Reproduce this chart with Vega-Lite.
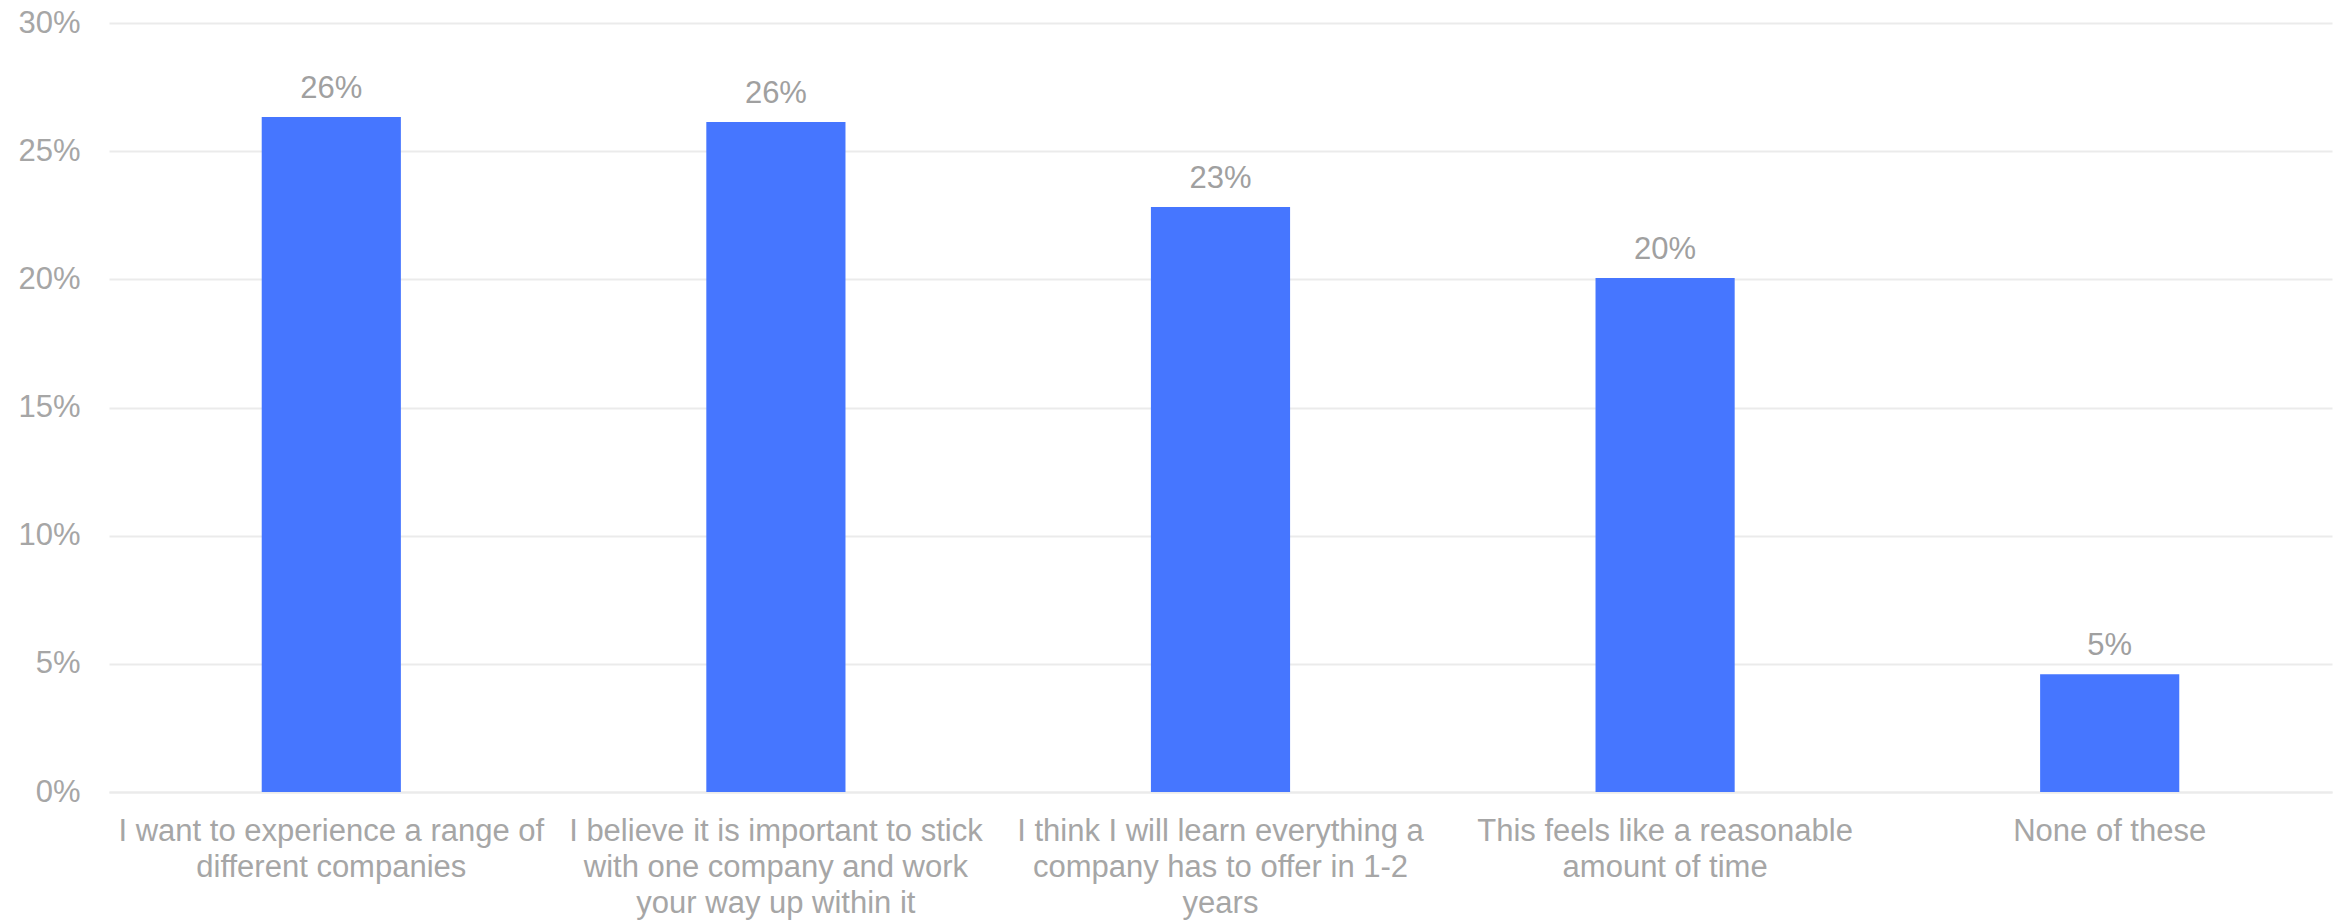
{
  "$schema": "https://vega.github.io/schema/vega-lite/v6.json",
  "width": 2223,
  "height": 769,
  "autosize": {"type": "none"},
  "padding": {"left": 109, "top": 23, "right": 9, "bottom": 128},
  "background": "white",
  "data": {
    "values": [
      {"reason": "I want to experience a range of|different companies", "share": 0.2633},
      {"reason": "I believe it is important to stick|with one company and work|your way up within it", "share": 0.2614},
      {"reason": "I think I will learn everything a|company has to offer in 1-2|years", "share": 0.2282},
      {"reason": "This feels like a reasonable|amount of time", "share": 0.2005},
      {"reason": "None of these", "share": 0.0459}
    ]
  },
  "config": {
    "font": "Liberation Sans",
    "view": {"stroke": null}
  },
  "encoding": {
    "x": {
      "field": "reason",
      "type": "nominal",
      "sort": null,
      "scale": {"paddingInner": 0.687, "paddingOuter": 0.3435},
      "axis": {
        "title": null,
        "labelAngle": 0,
        "labelExpr": "split(datum.label, '|')",
        "labelFont": "Liberation Sans",
        "labelFontSize": 31,
        "labelColor": "#a6a6a6",
        "labelLineHeight": 36,
        "labelPadding": 24,
        "labelLimit": 0,
        "ticks": false,
        "domain": true,
        "domainColor": "#ebebeb",
        "domainWidth": 2
      }
    },
    "y": {
      "field": "share",
      "type": "quantitative",
      "scale": {"domain": [0, 0.3], "nice": false},
      "axis": {
        "title": null,
        "format": ".0%",
        "values": [0, 0.05, 0.1, 0.15, 0.2, 0.25, 0.3],
        "labelFont": "Liberation Sans",
        "labelFontSize": 31,
        "labelColor": "#a6a6a6",
        "labelPadding": 29,
        "ticks": false,
        "domain": false,
        "grid": true,
        "gridColor": "#ebebeb",
        "gridWidth": 2
      }
    }
  },
  "layer": [
    {
      "mark": {"type": "bar", "color": "#4676ff"}
    },
    {
      "mark": {
        "type": "text",
        "baseline": "bottom",
        "dy": -12,
        "fontSize": 31,
        "font": "Liberation Sans",
        "color": "#a0a0a0"
      },
      "encoding": {
        "text": {"field": "share", "type": "quantitative", "format": ".0%"}
      }
    }
  ]
}
